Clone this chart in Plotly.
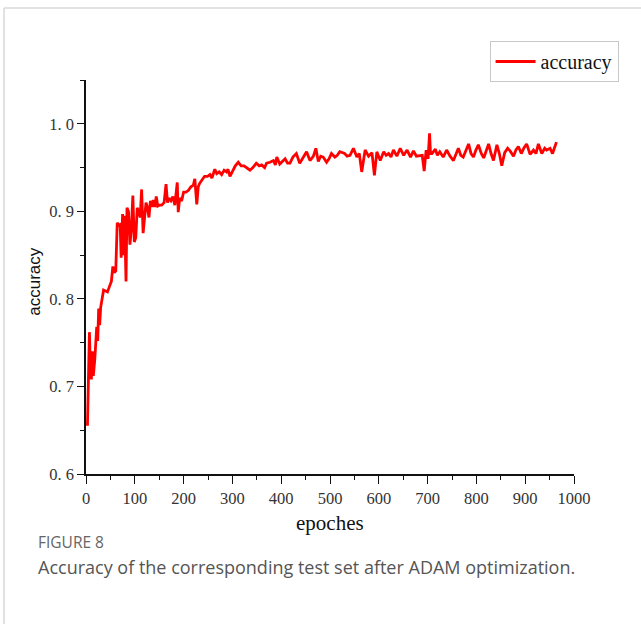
import plotly.graph_objects as go

epochs = [3, 5, 7, 9, 11, 13, 15, 18, 20, 22, 24, 26, 28, 30, 33, 36, 40, 44, 48, 52,
          55, 58, 61, 64, 67, 70, 72, 75, 77, 79, 82, 84, 87, 90, 93, 96, 99, 102, 105, 108,
          111, 114, 117, 120, 123, 126, 129, 132, 135, 138, 141, 144, 147, 150, 155, 160, 164, 167, 170, 174,
          178, 182, 187, 189, 192, 196, 200, 205, 210, 215, 220, 223, 227, 230, 233, 238, 243, 249, 254, 258,
          264, 268, 273, 278, 283, 288, 291, 295, 300, 306, 312, 318, 324, 330, 336, 342, 349, 355, 360, 366,
          370, 377, 384, 388, 391, 397, 402, 408, 413, 418, 424, 431, 438, 444, 452, 459, 466, 471, 476, 481,
          486, 493, 498, 503, 510, 515, 520, 530, 535, 541, 548, 555, 560, 565, 572, 579, 586, 591, 596, 603,
          610, 615, 620, 625, 630, 637, 644, 651, 658, 665, 671, 677, 685, 689, 693, 697, 701, 704, 706, 709,
          716, 720, 725, 732, 739, 746, 753, 758, 763, 768, 773, 779, 784, 789, 794, 799, 804, 810, 815, 820,
          825, 830, 835, 842, 847, 852, 858, 864, 869, 876, 881, 886, 892, 897, 903, 910, 917, 922, 927, 934,
          940, 944, 951, 956, 960, 964]
accuracy = [0.655, 0.700, 0.762, 0.720, 0.708, 0.740, 0.712, 0.731, 0.752, 0.768, 0.752, 0.789, 0.770, 0.790, 0.800, 0.810, 0.809, 0.808, 0.814, 0.820,
            0.837, 0.830, 0.832, 0.887, 0.884, 0.885, 0.847, 0.897, 0.850, 0.895, 0.820, 0.904, 0.900, 0.862, 0.880, 0.918, 0.865, 0.870, 0.904, 0.900,
            0.893, 0.925, 0.875, 0.890, 0.910, 0.904, 0.893, 0.912, 0.905, 0.913, 0.905, 0.917, 0.906, 0.907, 0.907, 0.910, 0.931, 0.910, 0.915, 0.912,
            0.917, 0.907, 0.933, 0.899, 0.915, 0.912, 0.922, 0.922, 0.924, 0.928, 0.930, 0.937, 0.908, 0.928, 0.932, 0.936, 0.940, 0.940, 0.942, 0.938,
            0.948, 0.943, 0.945, 0.942, 0.947, 0.945, 0.948, 0.940, 0.946, 0.952, 0.956, 0.952, 0.952, 0.950, 0.947, 0.950, 0.955, 0.952, 0.953, 0.950,
            0.955, 0.956, 0.958, 0.953, 0.962, 0.954, 0.957, 0.960, 0.955, 0.955, 0.962, 0.966, 0.955, 0.960, 0.968, 0.958, 0.963, 0.972, 0.957, 0.963,
            0.962, 0.956, 0.960, 0.966, 0.962, 0.964, 0.968, 0.966, 0.963, 0.964, 0.972, 0.962, 0.966, 0.945, 0.970, 0.963, 0.967, 0.941, 0.968, 0.958,
            0.968, 0.964, 0.966, 0.962, 0.970, 0.963, 0.972, 0.964, 0.970, 0.962, 0.969, 0.963, 0.964, 0.964, 0.946, 0.970, 0.960, 0.989, 0.966, 0.966,
            0.971, 0.964, 0.968, 0.962, 0.970, 0.963, 0.958, 0.966, 0.972, 0.964, 0.962, 0.970, 0.977, 0.966, 0.962, 0.970, 0.976, 0.966, 0.961, 0.969,
            0.977, 0.966, 0.958, 0.976, 0.966, 0.952, 0.967, 0.972, 0.969, 0.963, 0.970, 0.974, 0.966, 0.972, 0.977, 0.965, 0.970, 0.966, 0.977, 0.966,
            0.972, 0.970, 0.972, 0.966, 0.972, 0.979]

x_tickvals = [0, 100, 200, 300, 400, 500, 600, 700, 800, 900, 1000]
x_ticktext = ["0", "100", "200", "300", "400", "500", "600", "700", "800", "900", "1000"]
y_tickvals = [0.6, 0.7, 0.8, 0.9, 1.0]
y_ticktext = ["0. 6", "0. 7", "0. 8", "0. 9", "1. 0"]

serif = "Liberation Serif, Times New Roman, serif"

fig = go.Figure()
fig.add_trace(go.Scatter(
    x=epochs, y=accuracy, mode="lines", name="accuracy",
    line=dict(color="#ff0000", width=2.8),
))

fig.update_layout(
    width=641, height=624,
    margin=dict(l=86, r=67, t=80, b=150),
    paper_bgcolor="white", plot_bgcolor="white",
    showlegend=True,
    legend=dict(
        x=0.827, y=1.099, xanchor="left", yanchor="top",
        bordercolor="#c8c8c8", borderwidth=1, bgcolor="white",
        font=dict(family=serif, size=20, color="#111"),
        itemwidth=40, tracegroupgap=0,
    ),
    xaxis=dict(
        range=[0, 1000], tickvals=x_tickvals, ticktext=x_ticktext,
        showgrid=False, zeroline=False, showline=True, linecolor="#111", linewidth=1.6,
        ticks="outside", ticklen=8, tickwidth=1.4, tickcolor="#111",
        tickfont=dict(family=serif, size=16.5, color="#333"),
        minor=dict(ticks="outside", ticklen=4, tickwidth=1.2, tickcolor="#111", dtick=50, tick0=0, showgrid=False),
    ),
    yaxis=dict(
        range=[0.6, 1.05], tickvals=y_tickvals, ticktext=y_ticktext,
        showgrid=False, zeroline=False, showline=True, linecolor="#111", linewidth=1.6,
        ticks="outside", ticklen=7, tickwidth=1.4, tickcolor="#111",
        tickfont=dict(family=serif, size=16.5, color="#333"),
        minor=dict(ticks="outside", ticklen=4, tickwidth=1.2, tickcolor="#111", dtick=0.05, tick0=0.6, showgrid=False),
    ),
    shapes=[
        dict(type="line", xref="paper", yref="paper", x0=-0.168, x1=1.14, y0=1.183, y1=1.183,
             line=dict(color="#d8d8d8", width=1.5)),
        dict(type="line", xref="paper", yref="paper", x0=-0.168, x1=-0.168, y0=1.183, y1=-0.39,
             line=dict(color="#d8d8d8", width=1.5)),
    ],
    annotations=[
        dict(text="epoches", xref="paper", yref="paper", x=0.5, y=-0.125, xanchor="center", yanchor="middle",
             showarrow=False, font=dict(family=serif, size=21, color="#111")),
        dict(text="accuracy", xref="paper", yref="paper", x=-0.105, y=0.49, xanchor="center", yanchor="middle",
             textangle=-90, showarrow=False,
             font=dict(family="Liberation Sans, Arial, sans-serif", size=17, color="#111")),
        dict(text="FIGURE 8", xref="paper", yref="paper", x=-0.1025, y=-0.1726, xanchor="left", yanchor="middle",
             showarrow=False, font=dict(family="Open Sans, Noto Sans, sans-serif", size=15.5, color="#666")),
        dict(text="Accuracy of the corresponding test set after ADAM optimization.", xref="paper", yref="paper",
             x=-0.1025, y=-0.236, xanchor="left", yanchor="middle",
             showarrow=False, font=dict(family="Open Sans, Noto Sans, sans-serif", size=18, color="#555")),
    ],
)

fig.write_html("out.html", config={"displayModeBar": False},
               post_script="document.body.style.margin='0';")
